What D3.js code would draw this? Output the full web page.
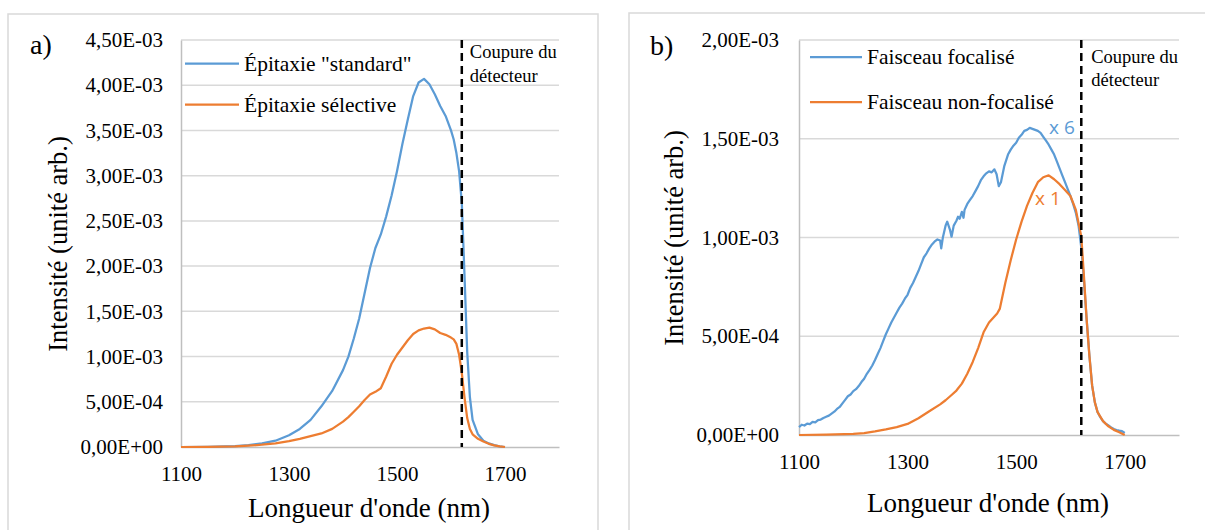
<!DOCTYPE html>
<html>
<head>
<meta charset="utf-8">
<script src="https://cdn.jsdelivr.net/npm/d3@7"></script>
</head>
<body style="margin:0">
<svg id="chart" width="1205" height="530" style="font-family:'Liberation Serif'"></svg>
<script>
// ---------- DATA ----------
const xTicks = [1100, 1300, 1500, 1700];
const yTicksA = [0, 5e-4, 1e-3, 1.5e-3, 2e-3, 2.5e-3, 3e-3, 3.5e-3, 4e-3, 4.5e-3];
const yTicksB = [0, 5e-4, 1e-3, 1.5e-3, 2e-3];
const cutoffWavelength = 1620;

// Panel a
const seriesNamesA = ['Épitaxie "standard"', 'Épitaxie sélective'];
const wavelengthsA = [1100,1150,1200,1225,1250,1275,1300,1320,1340,1360,1380,1400,1410,1420,1430,1440,1450,1460,1470,1480,1490,1500,1510,1520,1530,1540,1550,1560,1570,1580,1590,1600,1605,1610,1615,1620,1625,1630,1635,1640,1650,1660,1670,1680,1690,1700];
const standardA = [0,0.002,0.01,0.02,0.04,0.07,0.13,0.2,0.3,0.45,0.62,0.85,1.0,1.2,1.42,1.7,1.98,2.2,2.35,2.55,2.78,3.05,3.35,3.62,3.88,4.03,4.07,4.01,3.9,3.77,3.66,3.5,3.4,3.25,3.05,2.7,1.9,1.05,0.55,0.3,0.14,0.07,0.04,0.02,0.008,0];
const selectiveA = [0,0.002,0.008,0.015,0.025,0.04,0.065,0.09,0.12,0.15,0.2,0.28,0.33,0.39,0.45,0.52,0.58,0.61,0.65,0.78,0.92,1.02,1.1,1.18,1.25,1.29,1.31,1.32,1.3,1.26,1.24,1.21,1.19,1.14,1.02,0.82,0.55,0.32,0.2,0.14,0.09,0.06,0.035,0.018,0.007,0];

// Panel b
const seriesNamesB = ['Faisceau focalisé', 'Faisceau non-focalisé'];
const wavelengthsFocB = [1100,1105,1110,1115,1120,1125,1130,1135,1140,1145,1150,1155,1160,1165,1170,1175,1180,1185,1190,1195,1200,1205,1210,1215,1220,1225,1230,1235,1240,1245,1250,1255,1260,1265,1270,1275,1280,1285,1290,1295,1300,1305,1310,1315,1320,1325,1330,1335,1340,1345,1350,1355,1360,1362,1365,1370,1373,1378,1381,1385,1390,1393,1396,1400,1403,1405,1410,1415,1420,1425,1430,1435,1440,1445,1450,1455,1460,1464,1468,1472,1478,1485,1490,1495,1500,1505,1510,1515,1520,1525,1530,1535,1540,1545,1550,1555,1560,1565,1570,1575,1580,1585,1590,1595,1600,1605,1610,1615,1620,1625,1630,1635,1640,1645,1650,1655,1660,1665,1670,1675,1680,1685,1690,1695,1700];
const focusedB = [0.040,0.052,0.048,0.058,0.055,0.066,0.064,0.075,0.078,0.086,0.092,0.098,0.108,0.118,0.132,0.142,0.160,0.178,0.196,0.205,0.222,0.232,0.248,0.268,0.285,0.31,0.33,0.352,0.38,0.41,0.44,0.475,0.51,0.54,0.57,0.595,0.62,0.645,0.665,0.69,0.71,0.745,0.77,0.80,0.83,0.865,0.90,0.92,0.945,0.965,0.98,0.99,0.985,0.945,1.0,1.06,1.08,1.04,1.004,1.06,1.085,1.105,1.095,1.13,1.10,1.14,1.17,1.19,1.21,1.235,1.26,1.29,1.31,1.325,1.335,1.33,1.345,1.32,1.26,1.28,1.36,1.42,1.445,1.465,1.48,1.505,1.52,1.54,1.545,1.555,1.55,1.545,1.54,1.53,1.51,1.49,1.47,1.445,1.42,1.385,1.35,1.315,1.28,1.245,1.21,1.17,1.125,1.06,0.95,0.78,0.58,0.40,0.25,0.165,0.116,0.09,0.07,0.058,0.048,0.038,0.030,0.025,0.022,0.02,0.01];
const wavelengthsUnfB = [1100,1150,1200,1220,1240,1260,1280,1300,1320,1340,1360,1370,1380,1390,1400,1410,1420,1430,1440,1450,1460,1465,1470,1480,1490,1500,1510,1520,1530,1540,1550,1560,1570,1580,1590,1600,1610,1620,1625,1630,1635,1640,1645,1650,1660,1670,1680,1690,1700];
const unfocusedB = [0,0.002,0.006,0.01,0.018,0.028,0.04,0.056,0.085,0.12,0.155,0.176,0.2,0.225,0.26,0.31,0.37,0.44,0.52,0.57,0.6,0.615,0.64,0.77,0.885,0.99,1.08,1.16,1.225,1.28,1.305,1.315,1.295,1.27,1.24,1.21,1.14,1.005,0.8,0.58,0.4,0.25,0.165,0.116,0.07,0.044,0.026,0.014,0];

const colors = ['#5B9BD5', '#ED7D31'];

// ---------- HELPERS ----------
function fmtSci(v) {
  if (v === 0) return '0,00E+00';
  const [m, e] = v.toExponential(2).split('e');
  const ev = parseInt(e, 10);
  const es = (ev < 0 ? '-' : '+') + String(Math.abs(ev)).padStart(2, '0');
  return m.replace('.', ',') + 'E' + es;
}
function toPoints(xs, ys) { return xs.map((x, i) => ({ x: x, y: ys[i] * 1e-3 })); }
function serifText(sel, size) {
  return sel.attr('font-family', 'Liberation Serif')
    .style('font-family', '"Liberation Serif"')
    .style('font-size', size + 'px').attr('fill', '#000');
}

const svg = d3.select('#chart');

function drawPanel(cfg) {
  const g = svg.append('g');
  g.append('rect').attr('x', cfg.frame[0]).attr('y', cfg.frame[1])
    .attr('width', cfg.frame[2]).attr('height', cfg.frame[3])
    .attr('fill', 'none').attr('stroke', '#d9d9d9').attr('stroke-width', 1.5);

  const x = d3.scaleLinear().domain([1100, 1800]).range([cfg.left, cfg.right]);
  const y = d3.scaleLinear().domain([0, cfg.yMax]).range([cfg.bottom, cfg.top]);

  g.append('g').selectAll('line').data(cfg.yTicks.filter(d => d > 0)).join('line')
    .attr('x1', cfg.left).attr('x2', cfg.right)
    .attr('y1', d => y(d)).attr('y2', d => y(d))
    .attr('stroke', '#d9d9d9').attr('stroke-width', 1.5);

  const ya = g.append('g').attr('transform', `translate(${cfg.left},0)`)
    .call(d3.axisLeft(y).tickValues(cfg.yTicks).tickFormat(fmtSci).tickSize(0).tickPadding(cfg.yPad));
  ya.attr('font-family', 'Liberation Serif').attr('font-size', 21);
  ya.select('.domain').attr('stroke', '#bfbfbf').attr('stroke-width', 1.5);
  serifText(ya.selectAll('text'), 21);

  const xa = g.append('g').attr('transform', `translate(0,${cfg.bottom})`)
    .call(d3.axisBottom(x).tickValues(xTicks).tickFormat(d3.format('d')).tickSize(0).tickPadding(cfg.xPad));
  xa.attr('font-family', 'Liberation Serif').attr('font-size', 21);
  xa.select('.domain').attr('stroke', '#bfbfbf').attr('stroke-width', 1.5);
  serifText(xa.selectAll('text'), 21);

  const line = d3.line().x(d => x(d.x)).y(d => y(d.y));
  cfg.series.forEach((s, i) => {
    g.append('path').datum(s).attr('d', line).attr('fill', 'none')
      .attr('stroke', colors[i]).attr('stroke-width', 2.25).attr('stroke-linejoin', 'round');
  });

  g.append('line').attr('x1', x(cutoffWavelength)).attr('x2', x(cutoffWavelength))
    .attr('y1', cfg.top).attr('y2', cfg.bottom)
    .attr('stroke', '#000').attr('stroke-width', 2.5).attr('stroke-dasharray', '8,5');
  serifText(g.append('text').attr('x', x(cutoffWavelength) + cfg.cutDx).attr('y', cfg.cutY[0]), 18.5).text('Coupure du');
  serifText(g.append('text').attr('x', x(cutoffWavelength) + cfg.cutDx).attr('y', cfg.cutY[1]), 18.5).text('détecteur');

  cfg.names.forEach((n, i) => {
    g.append('line').attr('x1', cfg.leg.x).attr('x2', cfg.leg.x + cfg.leg.w)
      .attr('y1', cfg.leg.ys[i]).attr('y2', cfg.leg.ys[i])
      .attr('stroke', colors[i]).attr('stroke-width', 2.25);
    serifText(g.append('text').attr('x', cfg.leg.x + cfg.leg.w + 5).attr('y', cfg.leg.ys[i] + 7), 21.5).text(n);
  });

  serifText(g.append('text').attr('x', cfg.letter[0]).attr('y', cfg.letter[1]), 28).text(cfg.letterText);

  serifText(g.append('text')
    .attr('transform', `translate(${cfg.yTitle[0]},${cfg.yTitle[1]}) rotate(-90)`)
    .attr('text-anchor', 'middle'), 26.5).text('Intensité (unité arb.)');
  serifText(g.append('text').attr('x', cfg.xTitle[0]).attr('y', cfg.xTitle[1])
    .attr('text-anchor', 'middle'), 27).text("Longueur d'onde (nm)");
  return { g, x, y };
}

drawPanel({
  frame: [8, 14, 590, 540],
  left: 181, right: 559, top: 40, bottom: 447, yMax: 4.5e-3, yTicks: yTicksA,
  yPad: 18, xPad: 19,
  series: [toPoints(wavelengthsA, standardA), toPoints(wavelengthsA, selectiveA)],
  names: seriesNamesA,
  leg: { x: 185, w: 54, ys: [63.5, 104.5] },
  cutDx: 8, cutY: [58, 82],
  letter: [30, 54], letterText: 'a)',
  yTitle: [67, 244], xTitle: [369, 517]
});

const pb = drawPanel({
  frame: [629, 13, 600, 540],
  left: 799, right: 1179, top: 40, bottom: 435, yMax: 2e-3, yTicks: yTicksB,
  yPad: 20, xPad: 19,
  series: [toPoints(wavelengthsFocB, focusedB), toPoints(wavelengthsUnfB, unfocusedB)],
  names: seriesNamesB,
  leg: { x: 810, w: 52, ys: [57, 102] },
  cutDx: 10, cutY: [63, 86],
  letter: [650, 55], letterText: 'b)',
  yTitle: [683, 238], xTitle: [988, 512]
});

pb.g.append('text').attr('x', 1049).attr('y', 134).attr('font-family', 'Open Sans')
  .style('font-family', '"Open Sans"').style('font-size', '19px').attr('fill', colors[0]).text('x 6');
pb.g.append('text').attr('x', 1035).attr('y', 205).attr('font-family', 'Open Sans')
  .style('font-family', '"Open Sans"').style('font-size', '19px').attr('fill', colors[1]).text('x 1');
</script>
</body>
</html>
